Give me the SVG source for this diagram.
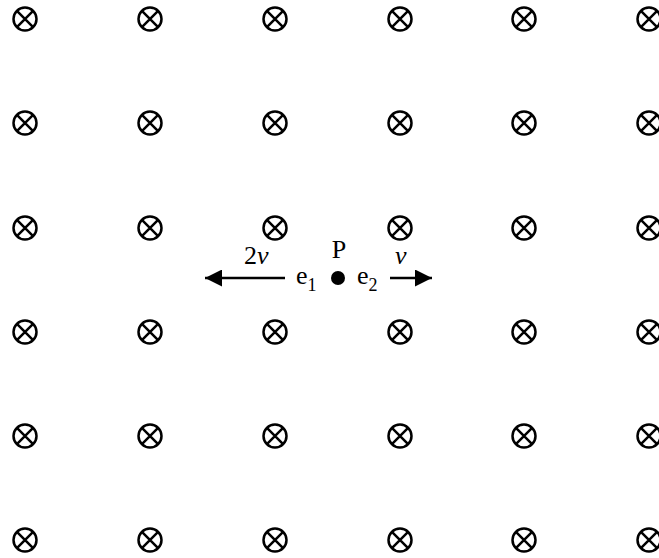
<svg xmlns="http://www.w3.org/2000/svg" width="659" height="558" viewBox="0 0 659 558">
<style>
.c{fill:none;stroke:#000;stroke-width:2.5}
.t{font-family:"Liberation Serif","Times New Roman",serif;font-size:26px;fill:#000}
.s{font-size:18px}
.i{font-style:italic}
</style>
<defs>
<g id="x"><circle class="c" r="11.5"/><path class="c" d="M-8.1,-8.1L8.1,8.1M-8.1,8.1L8.1,-8.1"/></g>
<marker id="ah" viewBox="0 0 10 10" refX="10" refY="5" markerWidth="19" markerHeight="17" markerUnits="userSpaceOnUse" orient="auto"><path d="M0,0L10,5L0,10z" fill="#000"/></marker>
</defs>
<g id="field">
<use href="#x" x="25" y="19"/><use href="#x" x="150" y="19"/><use href="#x" x="275" y="19"/><use href="#x" x="400" y="19"/><use href="#x" x="524" y="19"/><use href="#x" x="649" y="19"/>
<use href="#x" x="25" y="123"/><use href="#x" x="150" y="123"/><use href="#x" x="275" y="123"/><use href="#x" x="400" y="123"/><use href="#x" x="524" y="123"/><use href="#x" x="649" y="123"/>
<use href="#x" x="25" y="228"/><use href="#x" x="150" y="228"/><use href="#x" x="275" y="228"/><use href="#x" x="400" y="228"/><use href="#x" x="524" y="228"/><use href="#x" x="649" y="228"/>
<use href="#x" x="25" y="332"/><use href="#x" x="150" y="332"/><use href="#x" x="275" y="332"/><use href="#x" x="400" y="332"/><use href="#x" x="524" y="332"/><use href="#x" x="649" y="332"/>
<use href="#x" x="25" y="436"/><use href="#x" x="150" y="436"/><use href="#x" x="275" y="436"/><use href="#x" x="400" y="436"/><use href="#x" x="524" y="436"/><use href="#x" x="649" y="436"/>
<use href="#x" x="25" y="540"/><use href="#x" x="150" y="540"/><use href="#x" x="275" y="540"/><use href="#x" x="400" y="540"/><use href="#x" x="524" y="540"/><use href="#x" x="649" y="540"/>
</g>
<g id="P">
<circle cx="338" cy="278" r="7" fill="#000"/>
<text class="t" x="339" y="258" text-anchor="middle">P</text>
</g>
<g id="e1"><text class="t" x="296" y="284">e<tspan class="s" dy="7">1</tspan></text></g>
<g id="e2"><text class="t" x="357" y="284">e<tspan class="s" dy="7">2</tspan></text></g>
<g id="connectors">
<line x1="285" y1="278" x2="205" y2="278" stroke="#000" stroke-width="2.5" marker-end="url(#ah)"/>
<line x1="390" y1="278" x2="432" y2="278" stroke="#000" stroke-width="2.5" marker-end="url(#ah)"/>
</g>
<g id="labels">
<text class="t" x="244" y="264">2<tspan class="i">v</tspan></text>
<text class="t i" x="395" y="264">v</text>
</g>
</svg>
